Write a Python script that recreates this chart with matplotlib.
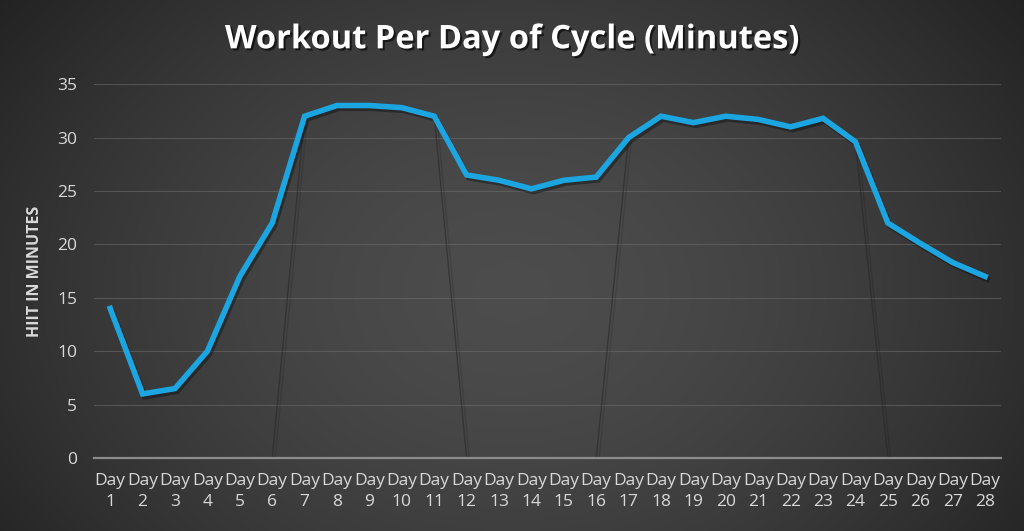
import numpy as np
import matplotlib.pyplot as plt
import matplotlib.patheffects as pe

# data
days = np.arange(1, 29)
day_labels = ['Day\n%d' % d for d in days]
minutes = [14, 6, 6.5, 10, 17, 22, 32, 33, 33, 32.8, 32, 26.5, 26, 25.2,
           26, 26.3, 30, 32, 31.4, 32, 31.7, 31, 31.8, 29.6, 22, 20.1, 18.3, 17]
# faint second series (phase) under the blue line
phase = [0, 0, 0, 0, 0, 0, 32, 33, 33, 32.8, 32, 0, 0, 0,
         0, 0, 30, 32, 31.4, 32, 31.7, 31, 31.8, 29.6, 0, 0, 0, 0]

plt.rcParams['font.family'] = ['Open Sans', 'DejaVu Sans']

fig = plt.figure(figsize=(10.24, 5.31), dpi=100)

# radial-ish gradient background
bg = fig.add_axes([0, 0, 1, 1], zorder=-10)
yy, xx = np.mgrid[0:1:300j, 0:1:600j]
r = np.sqrt(((xx - 0.5) / 0.75) ** 2 + ((yy - 0.55) / 1.1) ** 2)
shade = np.clip(0.30 - 0.22 * r ** 1.6, 0.10, 0.30)
bg.imshow(np.dstack([shade, shade, shade]), aspect='auto', extent=[0, 1, 0, 1])
bg.axis('off')

ax = fig.add_axes([0.0918, 0.1375, 0.886, 0.704])
ax.patch.set_alpha(0)

ax.plot(days, phase, color='#262626', lw=1.0, alpha=0.55, zorder=2,
        path_effects=[pe.SimpleLineShadow(offset=(2, -1), shadow_color='k', alpha=0.12), pe.Normal()])
ax.plot(days, minutes, color='#1ba6e1', lw=4.0, zorder=3, solid_joinstyle='miter',
        path_effects=[pe.SimpleLineShadow(offset=(1.5, -2), shadow_color='k', alpha=0.35), pe.Normal()])

ax.set_xlim(0.5, 28.5)
ax.set_ylim(0, 35)
ax.set_yticks(range(0, 36, 5))
ax.set_xticks(days)
ax.set_xticklabels(day_labels, linespacing=1.4)
ax.grid(axis='y', color='#6a6a6a', lw=0.8, alpha=0.6)
ax.set_axisbelow(True)
for s in ['top', 'right', 'left']:
    ax.spines[s].set_visible(False)
ax.spines['bottom'].set_color('#8c8c8c')
ax.spines['bottom'].set_linewidth(1.6)
ax.tick_params(length=0, colors='#d9d9d9', labelsize=12.5)
ax.tick_params(axis='x', pad=11)
ax.tick_params(axis='y', pad=12)

ax.set_ylabel('HIIT IN MINUTES', color='#d9d9d9', fontsize=11.5, fontweight='bold', labelpad=10)

fig.text(0.5, 0.925, 'Workout Per Day of Cycle (Minutes)', ha='center', va='center',
         color='white', fontsize=23.5, fontweight='bold',
         path_effects=[pe.withSimplePatchShadow(offset=(1.5, -1.5), shadow_rgbFace='k', alpha=0.6)])

fig.savefig('out.png', dpi=100)
